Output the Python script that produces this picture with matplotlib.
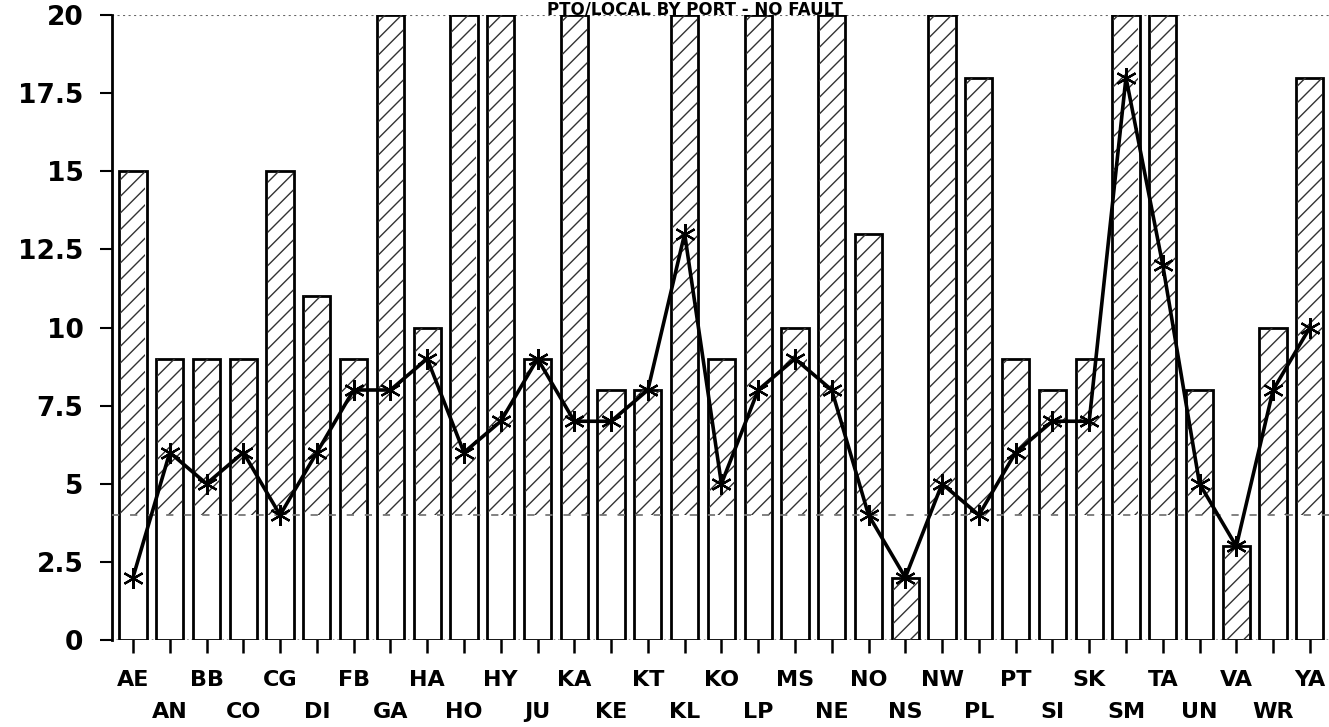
import matplotlib
matplotlib.use('Agg')
from matplotlib import pyplot as plt
from matplotlib import rcParams as rcp

categories = ['AE', 'AN', 'BB', 'CO', 'CG', 'DI', 'FB', 'GA', 'HA', 'HO', 'HY',
              'JU', 'KA', 'KE', 'KT', 'KL', 'KO', 'LP', 'MS', 'NE', 'NO', 'NS',
              'NW', 'PL', 'PT', 'SI', 'SK', 'SM', 'TA', 'UN', 'VA', 'WR', 'YA']
bar_values = [15, 9, 9, 9, 15, 11, 9, 20, 10, 20, 20,
              9, 20, 8, 8, 20, 9, 20, 10, 20, 13, 2,
              20, 18, 9, 8, 9, 20, 20, 8, 3, 10, 18]
line_values = [2, 6, 5, 6, 4, 6, 8, 8, 9, 6, 7,
               9, 7, 7, 8, 13, 5, 8, 9, 8, 4, 2,
               5, 4, 6, 7, 7, 18, 12, 5, 3, 8, 10]
y_ticks = [0, 2.5, 5, 7.5, 10, 12.5, 15, 17.5, 20]
y_tick_labels = ['0', '2.5', '5', '7.5', '10', '12.5', '15', '17.5', '20']
hatch_floor = 4
title = 'PTO/LOCAL BY PORT - NO FAULT'

rcp['font.family'] = ['DejaVu Sans']
rcp['hatch.linewidth'] = 1.0
rcp['hatch.color'] = '#333333'

fig = plt.figure(figsize=(13.29, 7.27), dpi=100)
ax = fig.add_axes([112 / 1329, 87 / 727, 1 - 112 / 1329, 625 / 727])

x = list(range(len(categories)))
width = 0.74

# outlines from zero
ax.bar(x, bar_values, width=width, facecolor='white', edgecolor='black',
       linewidth=2, zorder=2)

# hatched part sits above the reference level (or from zero for short bars)
hatch_bottom = [hatch_floor if v > hatch_floor else 0 for v in bar_values]
hatch_height = [v - b for v, b in zip(bar_values, hatch_bottom)]
ax.bar(x, hatch_height, bottom=hatch_bottom, width=width - 0.06,
       facecolor='none', edgecolor='#333333', hatch='//', linewidth=0, zorder=3)

ax.axhline(20, color='#666666', linestyle=':', linewidth=1.5, zorder=1)
ax.axhline(hatch_floor, color='#777777', linestyle=(0, (4, 6)), linewidth=1.3, zorder=4)
ax.axhline(0, color='#888888', linestyle=':', linewidth=1.2, zorder=1)

ax.plot(x, line_values, color='black', linewidth=2.6, marker=(6, 2, 0),
        markersize=15, markeredgewidth=1.6, zorder=5)

ax.set_xlim(-0.57, len(categories) - 0.48)
ax.set_ylim(0, 20)

ax.set_yticks(y_ticks)
ax.set_yticklabels(y_tick_labels, fontsize=19, fontweight='bold')
ax.tick_params(axis='y', direction='out', length=8.5, width=1.5, pad=12)

ax.set_xticks(x)
ax.set_xticklabels([''] * len(categories))
ax.tick_params(axis='x', direction='inout', length=19, width=1.8)

for i, name in enumerate(categories):
    row_y = -0.064 if i % 2 == 0 else -0.115
    ax.text(i, row_y, name, transform=ax.get_xaxis_transform(), ha='center',
            va='center', fontsize=16, fontweight='bold')

for side in ['top', 'right', 'bottom']:
    ax.spines[side].set_visible(False)
ax.spines['left'].set_linewidth(2)

fig.text(0.523, 0.999, title, ha='center', va='top', fontsize=12,
         fontweight='bold')

fig.savefig('out.png', dpi=100)
